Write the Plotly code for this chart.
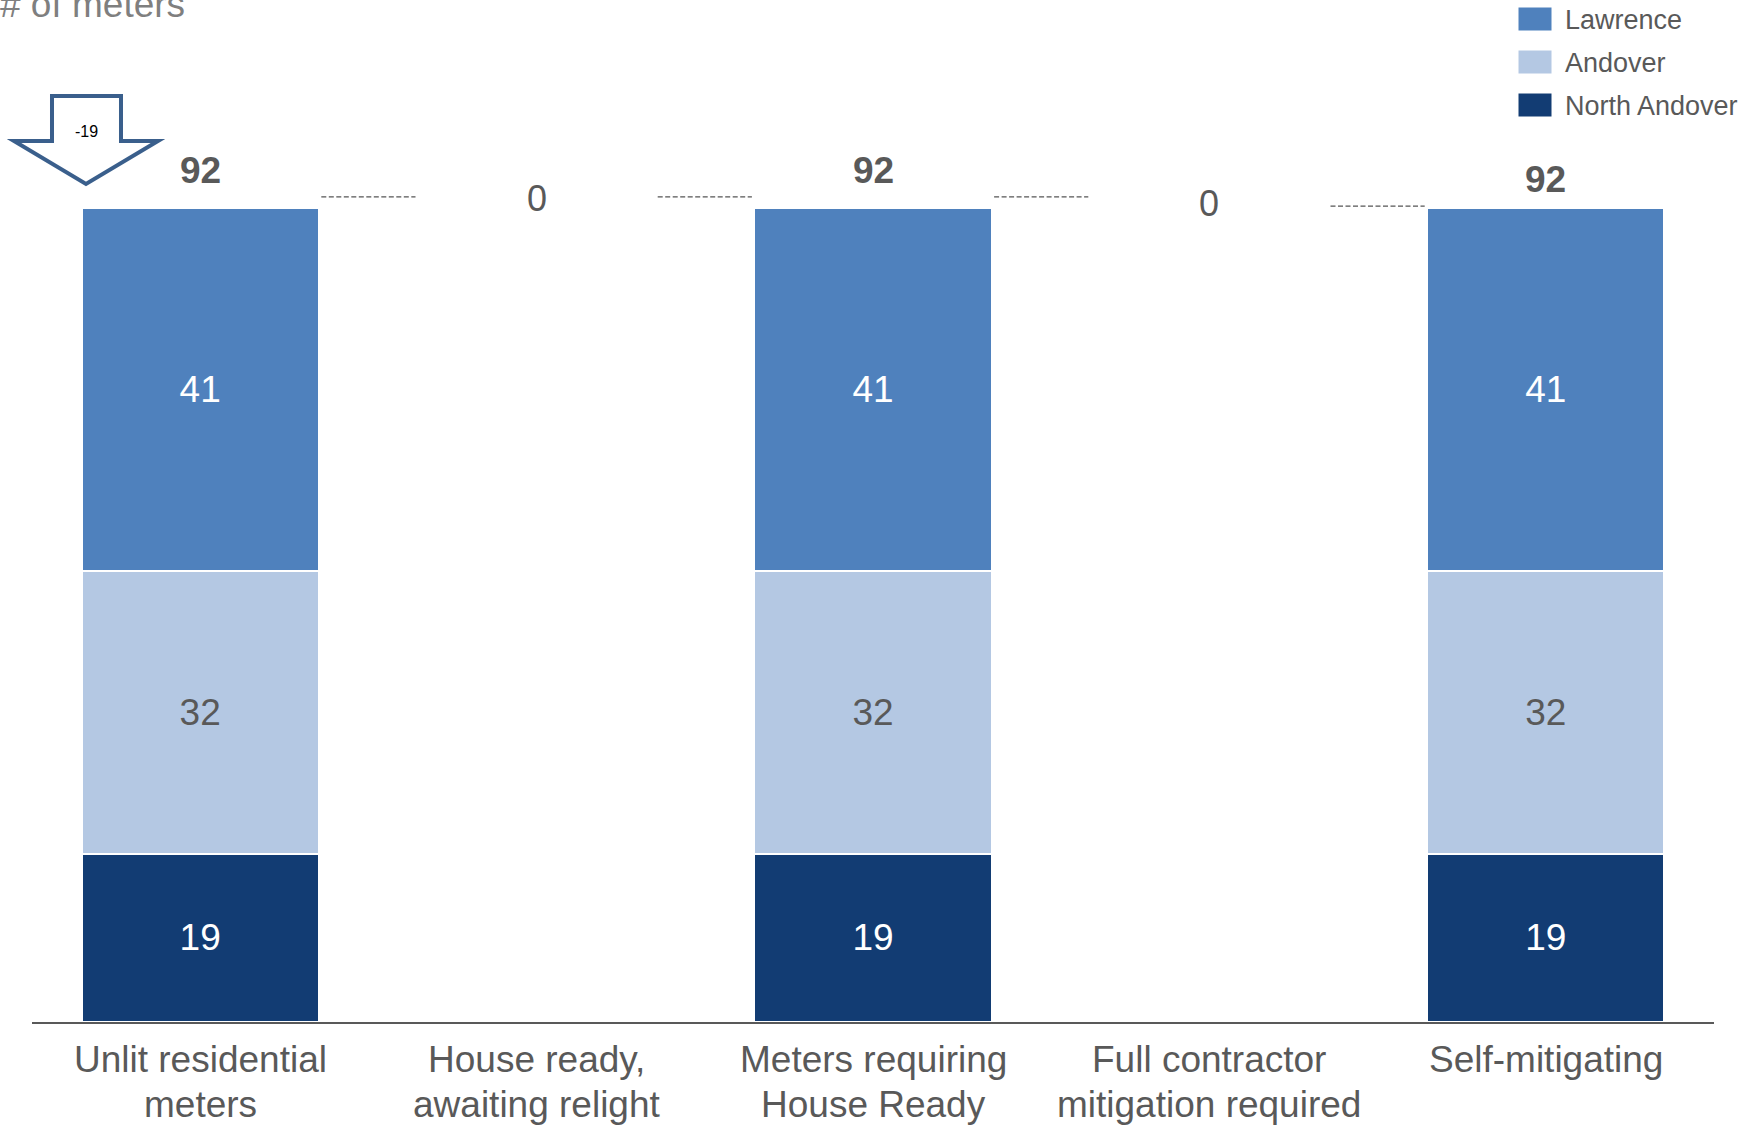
import plotly.graph_objects as go

# ---------------- data ----------------
categories = ["Unlit residential<br>meters", "House ready,<br>awaiting relight",
              "Meters requiring<br>House Ready", "Full contractor<br>mitigation required",
              "Self-mitigating"]
series_names = ["Lawrence", "Andover", "North Andover"]
lawrence = [41, 0, 41, 0, 41]
andover = [32, 0, 32, 0, 32]
north_andover = [19, 0, 19, 0, 19]
change_vs_prior = -19
axis_title = "# of meters"

# ---------------- style ----------------
W, H = 1759, 1127
ML, MR, MT, MB = 32, 45, 0, 105
PW, PH = W - ML - MR, H - MT - MB
Y_MAX = 115.5
FONT = "Arial, Liberation Sans, sans-serif"
GRAY = "#595959"
colors = {"Lawrence": "#4f81bd", "Andover": "#b4c8e3", "North Andover": "#123c73"}
text_colors = {"Lawrence": "white", "Andover": GRAY, "North Andover": "white"}
label_lift_px = [37, 9, 37, 4, 28]      # nudges for labels above bars
connector_lift = [1.25, 1.25, 1.25, 0.2]  # data-unit nudge of dashed connectors
tick_line_px = [1059, 1104]             # vertical centres of category label lines


def px2x(px):
    return (px - ML) / PW


def px2y(py):
    return (MT + PH - py) / PH


xs = list(range(len(categories)))
values = {"Lawrence": lawrence, "Andover": andover, "North Andover": north_andover}
totals = [a + b + c for a, b, c in zip(lawrence, andover, north_andover)]

fig = go.Figure()
for name in ["North Andover", "Andover", "Lawrence"]:
    vals = values[name]
    fig.add_trace(go.Bar(
        x=xs, y=vals, name=name, width=0.705,
        marker=dict(color=colors[name], line=dict(color="white", width=2)),
        text=[str(v) if v else "" for v in vals],
        textposition="inside", insidetextanchor="middle",
        textfont=dict(family=FONT, size=37, color=text_colors[name]),
        showlegend=False, hoverinfo="skip",
    ))

annotations = []
shapes = []

# total labels / zero labels
level = 0
levels = []
for i, t in enumerate(totals):
    if t > 0:
        level = t
        annotations.append(dict(x=i, y=t, xref="x", yref="y", text=f"<b>{t}</b>",
                                showarrow=False, yanchor="middle", yshift=label_lift_px[i],
                                font=dict(family=FONT, size=37, color=GRAY)))
    else:
        annotations.append(dict(x=i, y=level, xref="x", yref="y", text=str(t),
                                showarrow=False, yanchor="middle", yshift=label_lift_px[i],
                                font=dict(family=FONT, size=36, color=GRAY)))
    levels.append(level)

# category labels (one annotation per line for tight line spacing)
for i, cat in enumerate(categories):
    for j, line in enumerate(cat.split("<br>")):
        annotations.append(dict(x=i, y=px2y(tick_line_px[j]), xref="x", yref="paper",
                                text=line, showarrow=False, xanchor="center", yanchor="middle",
                                font=dict(family=FONT, size=37, color=GRAY)))

# dashed connectors between categories
for i in range(len(categories) - 1):
    yv = levels[i] + connector_lift[i]
    shapes.append(dict(type="line", xref="x", yref="y", x0=i + 0.36, x1=i + 0.64,
                       y0=yv, y1=yv, line=dict(color="#555555", width=1.3, dash="5px,2.5px")))

# block arrow with change annotation
pts = [(52, 96), (121, 96), (121, 141), (158, 141), (86, 184), (14, 141), (52, 141)]
path = "M " + " L ".join(f"{px2x(a):.5f},{px2y(b):.5f}" for a, b in pts) + " Z"
shapes.append(dict(type="path", xref="paper", yref="paper", path=path,
                   line=dict(color="#3a5f8c", width=4), fillcolor="white"))
annotations.append(dict(x=px2x(86), y=px2y(131), xref="paper", yref="paper",
                        text=str(change_vs_prior), showarrow=False,
                        xanchor="center", yanchor="middle",
                        font=dict(family=FONT, size=16, color="black")))

# axis title (top-left)
annotations.append(dict(x=px2x(-2), y=px2y(27), xref="paper", yref="paper",
                        text=axis_title, showarrow=False, xanchor="left", yanchor="bottom",
                        font=dict(family=FONT, size=37, color="#7f7f7f")))

# custom legend
for k, name in enumerate(series_names):
    top = 7 + k * 43
    shapes.append(dict(type="rect", xref="paper", yref="paper",
                       x0=px2x(1518), x1=px2x(1552), y0=px2y(top), y1=px2y(top + 24),
                       fillcolor=colors[name], line=dict(color="white", width=1)))
    annotations.append(dict(x=px2x(1563), y=px2y(top + 13), xref="paper", yref="paper",
                            text=name, showarrow=False, xanchor="left", yanchor="middle",
                            font=dict(family=FONT, size=27, color=GRAY)))

fig.update_layout(
    barmode="stack", bargap=0.3,
    width=W, height=H,
    margin=dict(l=ML, r=MR, t=MT, b=MB, pad=0),
    plot_bgcolor="white", paper_bgcolor="white",
    showlegend=False,
    annotations=annotations, shapes=shapes,
    xaxis=dict(range=[-0.5, len(categories) - 0.5], tickvals=xs, showticklabels=False,
               showline=True, linecolor=GRAY, linewidth=2, showgrid=False, zeroline=False,
               ticks="", fixedrange=True),
    yaxis=dict(range=[0, Y_MAX], visible=False, showgrid=False, zeroline=False, fixedrange=True),
)

fig.write_html("out.html", config={"displayModeBar": False},
               post_script="document.body.style.margin='0';document.body.style.overflow='hidden';")
